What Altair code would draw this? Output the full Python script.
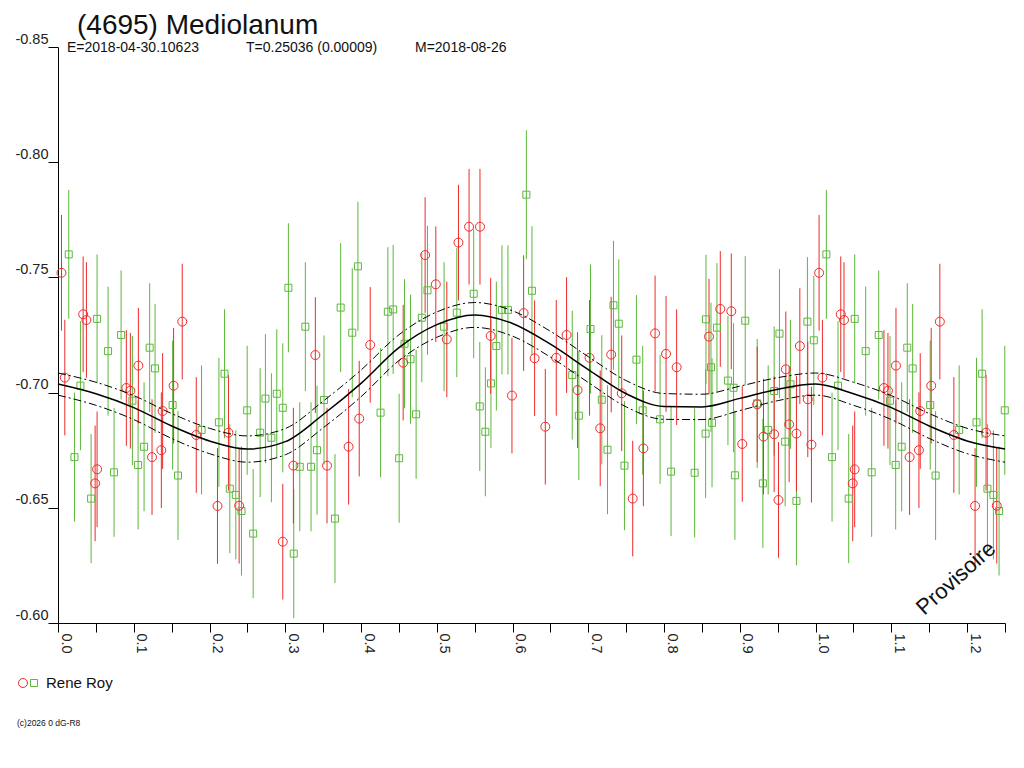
import altair as alt
import pandas as pd

# ---- observations (phase, reduced magnitude) ----
red_phase = [0.0046, 0.0090, 0.0332, 0.0375, 0.0516, 0.0490, 0.0902, 0.0955, 0.1061, 0.1241,
             0.1364, 0.1381, 0.1526, 0.1640, 0.1825,
             0.2105, 0.2250, 0.2391, 0.2967, 0.3107, 0.3397, 0.3551, 0.3836, 0.3976,
             0.4121, 0.4556, 0.4846, 0.4987, 0.5132, 0.5286, 0.5426, 0.5570, 0.5711, 0.5992,
             0.6146, 0.6291, 0.6432, 0.6577, 0.6713, 0.6858, 0.7016, 0.7157, 0.7302, 0.7441,
             0.7586, 0.7727, 0.7881, 0.8026,
             0.8166, 0.8593, 0.8742, 0.8887, 0.9032, 0.9229, 0.9312, 0.9453, 0.9510, 0.9607,
             0.9651, 0.9747, 0.9792, 0.9897, 0.9945]
red_mag = [-0.7520, -0.7065, -0.7340, -0.7315, -0.6667, -0.6606, -0.7020, -0.7008, -0.7117, -0.6720,
           -0.6750, -0.6920, -0.7030, -0.7308, -0.6816,
           -0.6508, -0.6826, -0.6509, -0.6353, -0.6683, -0.7163, -0.6683, -0.6765, -0.6887,
           -0.7207, -0.7130, -0.7597, -0.7470, -0.7231, -0.7651, -0.7720, -0.7720, -0.7246, -0.6987,
           -0.7345, -0.7149, -0.6852, -0.7151, -0.7250, -0.7011, -0.7151, -0.6845, -0.7165, -0.6997,
           -0.6540, -0.6758, -0.7257, -0.7168,
           -0.7110, -0.7243, -0.7363, -0.7353, -0.6777, -0.6949, -0.6809, -0.6819, -0.6534, -0.7101,
           -0.6862, -0.6822, -0.7202, -0.6971, -0.6774]

green_phase = [0.0142, 0.0296, 0.0217, 0.0516, 0.0437, 0.0661, 0.0740, 0.0833, 0.0982, 0.1057,
               0.1136, 0.1210, 0.1281, 0.1513, 0.1584, 0.1895,
               0.2124, 0.2198, 0.2268, 0.2347, 0.2422, 0.2497, 0.2576, 0.2668, 0.2738, 0.2817,
               0.2888, 0.2967, 0.3041, 0.3112, 0.3191, 0.3265, 0.3340, 0.3419, 0.3511, 0.3656,
               0.3731, 0.3884, 0.3959,
               0.4258, 0.4354, 0.4424, 0.4503, 0.4574, 0.4653, 0.4727, 0.4802, 0.4877, 0.5096,
               0.5264, 0.5487, 0.5567, 0.5641, 0.5715, 0.5786, 0.5860, 0.5939,
               0.6182, 0.6256, 0.6788, 0.6875, 0.7029, 0.7178, 0.7253, 0.7332, 0.7402, 0.7477,
               0.7635, 0.7718, 0.7947, 0.8092,
               0.8403, 0.8553, 0.8548, 0.8619, 0.8633, 0.8698, 0.8843, 0.8917, 0.8935, 0.9071,
               0.9229, 0.9304, 0.9374, 0.9453, 0.9523, 0.9598, 0.9668, 0.9747, 0.9892, 0.9976]
green_mag = [-0.7600, -0.7030, -0.6720, -0.7320, -0.6540, -0.7180, -0.6654, -0.7250, -0.6965, -0.6686,
             -0.6765, -0.7195, -0.7105, -0.6946, -0.6640, -0.6838,
             -0.6871, -0.7082, -0.6583, -0.6556, -0.6486, -0.6923, -0.6388, -0.6826, -0.6974, -0.6804,
             -0.6995, -0.6934, -0.7455, -0.6301, -0.6678, -0.7286, -0.6678, -0.6750, -0.6968, -0.6453,
             -0.7369, -0.7260, -0.7548,
             -0.6913, -0.7351, -0.7361, -0.6715, -0.7212, -0.7145, -0.6906, -0.7325, -0.7444, -0.7286,
             -0.7347, -0.7429, -0.6940, -0.6830, -0.7040, -0.7202, -0.7359, -0.7359,
             -0.7859, -0.7442, -0.7076, -0.6900, -0.7276, -0.6969, -0.6752, -0.7379, -0.7299, -0.6683,
             -0.7143, -0.6923, -0.6884, -0.6657,
             -0.6652, -0.7318, -0.6822, -0.7110, -0.6869, -0.7282, -0.7052, -0.7021, -0.6641, -0.7312,
             -0.6953, -0.6606, -0.6838, -0.7007, -0.7256, -0.6787, -0.7036, -0.6530, -0.7308, -0.7227]

red_err = 0.0251
green_err = 0.0280

# ---- fitted light curve ----
curve_phase = [0.00, 0.05, 0.10, 0.15, 0.20, 0.25, 0.30, 0.35, 0.40, 0.45, 0.50,
               0.55, 0.60, 0.65, 0.70, 0.75, 0.80, 0.85, 0.90, 0.95, 1.00]
curve_mag = [-0.7037, -0.6995, -0.6935, -0.6855, -0.6790, -0.6755, -0.6787, -0.6905, -0.7040,
             -0.7195, -0.7295, -0.7337, -0.7300, -0.7210, -0.7100, -0.6995, -0.6940, -0.6938,
             -0.6975, -0.7015, -0.7037]
curve_sig = [0.0048, 0.0050, 0.0052, 0.0054, 0.0055, 0.0057, 0.0057, 0.0058, 0.0058, 0.0056,
             0.0055, 0.0054, 0.0055, 0.0056, 0.0056, 0.0057, 0.0056, 0.0055, 0.0053, 0.0050,
             0.0048]

x_ticks = [0.0, 0.05, 0.1, 0.15, 0.2, 0.25, 0.3, 0.35, 0.4, 0.45, 0.5, 0.55, 0.6, 0.65,
           0.7, 0.75, 0.8, 0.85, 0.9, 0.95, 1.0, 1.05, 1.1, 1.15, 1.2, 1.25]
y_ticks = [-0.85, -0.80, -0.75, -0.70, -0.65, -0.60]

title_text = "(4695) Mediolanum"
sub_texts = ["E=2018-04-30.10623", "T=0.25036 (0.00009)", "M=2018-08-26"]
legend_text = "Rene Roy"
copy_text = "(c)2026 0 dG-R8"
stamp_text = "Provisoire"

RED = "#ee2a2a"
GREEN = "#5cb83a"
FONT = "Liberation Sans"


def obs_frame(phases, mags, err):
    rows = []
    for p, m in zip(phases, mags):
        rows.append({"phase": p, "mag": m, "lo": m - err, "hi": m + err})
        if p < 0.25:
            rows.append({"phase": p + 1.0, "mag": m, "lo": m - err, "hi": m + err})
    return pd.DataFrame(rows)


red_df = obs_frame(red_phase, red_mag, red_err)
green_df = obs_frame(green_phase, green_mag, green_err)

crows = []
for p, m, s in zip(curve_phase, curve_mag, curve_sig):
    crows.append({"phase": p, "mag": m, "up": m - s, "dn": m + s})
for p, m, s in zip(curve_phase, curve_mag, curve_sig):
    if 0 < p <= 0.25:
        crows.append({"phase": p + 1.0, "mag": m, "up": m - s, "dn": m + s})
curve_df = pd.DataFrame(crows)

xscale = alt.Scale(domain=[0, 1.25], nice=False, zero=False)
yscale = alt.Scale(domain=[-0.85, -0.60], nice=False, zero=False, reverse=True)

xaxis = alt.Axis(values=x_ticks, labelExpr="(round(datum.value*20) % 2 == 0) ? format(datum.value, '.1f') : ''",
                 labelAngle=90, labelAlign="left", labelBaseline="bottom", tickSize=9,
                 labelPadding=1, labelFontSize=14.5, labelFont=FONT, labelColor="#222",
                 grid=False, title=None, domainColor="black", tickColor="black",
                 labelFlush=False, labelOverlap=False, labelBound=False)
yaxis = alt.Axis(values=y_ticks, labelExpr="'-' + format(abs(datum.value), '.2f')",
                 labelAlign="right", labelBaseline="bottom", labelOffset=-1,
                 tickSize=10, labelPadding=0, labelFontSize=14.5, labelFont=FONT, labelColor="#222",
                 grid=False, title=None, domainColor="black", tickColor="black",
                 labelFlush=False, labelOverlap=False, labelBound=False)

X = alt.X("phase:Q", scale=xscale, axis=xaxis)

green_bars = alt.Chart(green_df).mark_rule(color=GREEN, strokeWidth=1).encode(
    x=X, y=alt.Y("lo:Q", scale=yscale, axis=yaxis), y2="hi:Q")
red_bars = alt.Chart(red_df).mark_rule(color=RED, strokeWidth=1).encode(
    x=X, y=alt.Y("lo:Q", scale=yscale), y2="hi:Q")
green_pts = alt.Chart(green_df).mark_point(shape="square", filled=False, size=49, color=GREEN,
                                           strokeWidth=1, opacity=1).encode(
    x=X, y=alt.Y("mag:Q", scale=yscale))
red_pts = alt.Chart(red_df).mark_point(shape="circle", filled=False, size=80, color=RED,
                                       strokeWidth=1, opacity=1).encode(
    x=X, y=alt.Y("mag:Q", scale=yscale))

curve = alt.Chart(curve_df).mark_line(color="black", strokeWidth=1.5, interpolate="monotone").encode(
    x=X, y=alt.Y("mag:Q", scale=yscale))
upper = alt.Chart(curve_df).mark_line(color="black", strokeWidth=1, strokeDash=[8, 3, 2, 3],
                                      interpolate="monotone").encode(
    x=X, y=alt.Y("up:Q", scale=yscale))
lower = alt.Chart(curve_df).mark_line(color="black", strokeWidth=1, strokeDash=[8, 3, 2, 3],
                                      interpolate="monotone").encode(
    x=X, y=alt.Y("dn:Q", scale=yscale))


def label(text, x, y, size, **kw):
    return alt.Chart(pd.DataFrame({"t": [text]})).mark_text(
        fontSize=size, font=FONT, align="left", baseline="alphabetic", color="#111", **kw
    ).encode(x=alt.value(x), y=alt.value(y), text="t:N")


title = label(title_text, 19, -13, 28)
sub1 = label(sub_texts[0], 9, 5, 14)
sub2 = label(sub_texts[1], 188, 5, 14)
sub3 = label(sub_texts[2], 357, 5, 14)
leg_txt = alt.Chart(pd.DataFrame({"t": [legend_text]})).mark_text(
    fontSize=15, font=FONT, align="left", baseline="middle", color="#111"
).encode(x=alt.value(-12), y=alt.value(636), text="t:N")
copy = label(copy_text, -41, 679, 8.5)
stamp = alt.Chart(pd.DataFrame({"t": [stamp_text]})).mark_text(
    fontSize=22, font=FONT, align="center", baseline="middle", color="#111", angle=318
).encode(x=alt.value(898), y=alt.value(531), text="t:N")

leg_c = alt.Chart(pd.DataFrame({"k": ["c"]})).mark_point(
    shape="circle", filled=False, size=80, color=RED, strokeWidth=1, opacity=1
).encode(x=alt.value(-35), y=alt.value(636))
leg_s = alt.Chart(pd.DataFrame({"k": ["s"]})).mark_point(
    shape="square", filled=False, size=49, color=GREEN, strokeWidth=1, opacity=1
).encode(x=alt.value(-24), y=alt.value(636))

chart = alt.layer(
    green_bars, red_bars, green_pts, red_pts, curve, upper, lower,
    title, sub1, sub2, sub3, leg_c, leg_s, leg_txt, copy, stamp
).properties(
    width=947, height=576,
    autosize=alt.AutoSizeParams(type="none"),
    padding={"left": 50, "top": 39, "right": 10, "bottom": 110},
    background="white",
).configure_view(stroke=None)

chart.save("out.html", embed_options={"renderer": "svg", "actions": False})
